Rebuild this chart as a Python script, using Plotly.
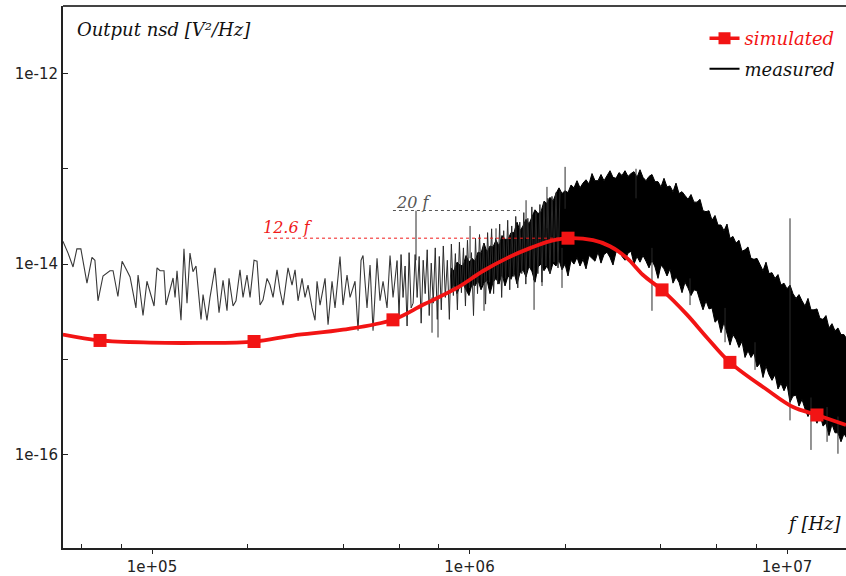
import numpy as np
import plotly.graph_objects as go

# ---------------- simulated output nsd (V^2/Hz) ----------------
sim_f = [5.24e4, 6.86e4, 9.86e4, 1.417e5, 2.096e5, 2.78e5, 3.996e5, 5.743e5, 7.14e5,
         9.13e5, 1.103e6, 1.313e6, 1.551e6, 1.793e6, 2.043e6, 2.449e6, 2.77e6, 3.134e6,
         3.52e6, 4.07e6, 4.84e6, 5.60e6, 6.61e6, 8.65e6, 1.045e7, 1.243e7, 1.534e7]
sim_v = [1.82e-15, 1.58e-15, 1.50e-15, 1.49e-15, 1.54e-15, 1.78e-15, 2.05e-15, 2.61e-15, 3.74e-15,
         5.62e-15, 8.46e-15, 1.155e-14, 1.47e-14, 1.74e-14, 1.87e-14, 1.78e-14, 1.54e-14, 1.155e-14,
         7.68e-15, 5.24e-15, 2.95e-15, 1.69e-15, 9.3e-16, 4.8e-16, 3.16e-16, 2.61e-16, 2.05e-16]
sim_mark_f = [6.86e4, 2.096e5, 5.74e5, 2.043e6, 4.04e6, 6.61e6, 1.243e7]
sim_mark_v = [1.58e-15, 1.54e-15, 2.60e-15, 1.87e-14, 5.36e-15, 9.3e-16, 2.61e-16]

# ---------------- measured output nsd, log10(V^2/Hz) ----------------
meas_sparse_khz = [52.4, 54.4, 56.4, 58.0, 59.7, 62.4, 64.7, 66.1, 67.6, 70.1,
                   73.7, 75.4, 78.1, 80.5, 83.4, 85.3, 89.0, 90.4, 93.7, 96.4,
                   101.5, 103.7, 106.0, 109.1, 110.7, 113.1, 116.5, 118.2, 119.9, 123.4,
                   126.1, 128.9, 131.7, 134.6, 137.6, 142.7, 144.8, 149.0, 152.3, 157.9,
                   162.6, 167.4, 172.3, 174.8, 180.0, 183.9, 189.3, 193.5, 199.2, 203.6,
                   209.6, 214.2, 218.9, 223.7, 230.3, 235.4, 240.6, 247.6, 253.1, 258.7,
                   268.2, 276.1, 282.2, 288.4, 296.9, 303.4, 310.1, 319.2, 326.2, 331.0,
                   338.3, 350.8, 358.5, 369.0, 377.1, 391.0, 399.6, 411.4, 420.5, 436.0,
                   445.6, 455.4, 462.0, 475.6, 486.1, 496.8, 511.4, 522.6, 534.2, 549.9,
                   562.0, 574.3, 591.2]
meas_sparse_log = [-13.76, -13.885, -14.03, -13.84, -13.84, -14.20, -13.93, -13.96, -14.385, -14.125,
                   -14.07, -14.07, -14.34, -13.97, -14.07, -14.135, -14.46, -14.115, -14.54, -14.18,
                   -14.44, -14.04, -14.07, -14.07, -14.43, -14.30, -14.146, -14.35, -14.07, -14.59,
                   -13.84, -14.41, -13.885, -14.08, -14.02, -14.58, -14.32, -14.59, -14.35, -14.04,
                   -14.51, -14.17, -14.49, -14.15, -14.44, -14.385, -14.06, -14.35, -14.115, -14.35,
                   -13.96, -13.97, -14.43, -14.375, -14.15, -14.22, -14.35, -14.06, -14.28, -14.43,
                   -14.04, -14.22, -14.06, -14.385, -14.15, -14.35, -14.22, -14.46, -14.59, -14.18,
                   -14.43, -14.15, -14.635, -14.18, -14.46, -13.92, -14.43, -14.115, -14.35, -14.18,
                   -14.70, -13.96, -13.91, -14.46, -14.01, -14.70, -13.94, -14.385, -14.18, -14.46,
                   -13.91, -14.35, -13.97]

# denser mid-band trace, 0.591 MHz .. 1.93 MHz
meas_mid_start, meas_mid_stop = 5.912e5, 1.928e6
meas_mid_log = [-13.96, -14.54, -13.90, -14.35, -14.02, -14.65, -13.88, -14.46, -14.41, -13.90,
                -14.35, -13.92, -14.62, -13.96, -14.31, -13.85, -14.54, -13.99, -14.41, -13.83,
                -14.58, -13.92, -14.48, -13.81, -14.35, -13.96, -14.58, -13.79, -14.33, -13.89,
                -14.48, -13.77, -14.30, -13.83, -14.44, -13.75, -14.25, -13.88, -14.54, -13.73,
                -14.31, -13.69, -14.23, -13.78, -14.42, -13.67, -14.19, -13.63, -14.31, -13.73,
                -14.21, -13.58, -14.35, -13.65, -14.15, -13.54, -14.27, -13.60, -14.13, -13.50,
                -14.25, -13.56, -14.10, -13.46, -14.21, -13.52, -14.04, -13.40, -14.17, -13.46,
                -14.10, -13.375, -14.19, -13.35, -14.02, -13.31, -14.10, -13.29, -13.98, -13.25,
                -14.04, -13.23]

# dense band envelopes, 0.87 MHz .. 15.5 MHz
meas_band_start, meas_band_stop = 8.745e5, 1.545e7
meas_band_upper_log = [
    -14.04, -14.07, -13.98, -14.01, -14.02, -13.91, -13.98, -13.94, -13.97, -13.875,
    -13.885, -13.78, -13.875, -13.81, -13.82, -13.75, -13.81, -13.70, -13.74, -13.74,
    -13.67, -13.67, -13.56, -13.65, -13.60, -13.53, -13.58, -13.50, -13.43, -13.47,
    -13.45, -13.34, -13.365, -13.30, -13.34, -13.26, -13.20, -13.26, -13.23, -13.25,
    -13.17, -13.20, -13.125, -13.20, -13.15, -13.115, -13.16, -13.05, -13.125, -13.125,
    -13.06, -13.125, -13.07, -13.02, -13.09, -13.10, -13.04, -13.07, -13.02, -13.08,
    -13.05, -13.03, -13.09, -13.01, -13.09, -13.125, -13.08, -13.06, -13.135, -13.135,
    -13.19, -13.10, -13.19, -13.18, -13.24, -13.15, -13.26, -13.24, -13.28, -13.32,
    -13.27, -13.35, -13.35, -13.32, -13.44, -13.45, -13.44, -13.54, -13.49, -13.59,
    -13.59, -13.65, -13.58, -13.73, -13.71, -13.78, -13.75, -13.865, -13.85, -13.82,
    -13.94, -13.95, -13.94, -14.00, -14.07, -13.98, -14.10, -14.09, -14.15, -14.11,
    -14.22, -14.20, -14.26, -14.22, -14.31, -14.36, -14.32, -14.385, -14.44, -14.36,
    -14.48, -14.48, -14.47, -14.57, -14.58, -14.54, -14.67, -14.625, -14.70, -14.67,
    -14.74, -14.74, -14.79]
meas_band_lower_log = [
    -14.27, -14.21, -14.31, -14.23, -14.21, -14.27, -14.33, -14.21, -14.23, -14.17,
    -14.27, -14.20, -14.17, -14.31, -14.19, -14.15, -14.21, -14.10, -14.23, -14.125,
    -14.16, -14.08, -14.21, -14.09, -14.06, -14.135, -14.02, -14.08, -14.19, -14.03,
    -14.00, -14.07, -14.02, -14.10, -13.99, -14.02, -13.96, -14.06, -14.00, -14.125,
    -13.96, -14.00, -13.93, -14.02, -13.95, -14.05, -13.91, -13.94, -13.97, -13.875,
    -13.99, -13.90, -13.875, -13.93, -14.01, -13.875, -13.85, -13.92, -13.96, -13.885,
    -13.865, -14.00, -13.92, -13.98, -13.91, -13.97, -14.04, -13.96, -14.03, -14.15,
    -14.01, -14.05, -14.125, -14.05, -14.20, -14.135, -14.19, -14.30, -14.19, -14.25,
    -14.33, -14.27, -14.28, -14.385, -14.48, -14.385, -14.47, -14.46, -14.61, -14.58,
    -14.72, -14.61, -14.72, -14.85, -14.74, -14.79, -14.875, -14.81, -14.98, -14.91,
    -14.98, -14.93, -15.08, -15.04, -15.19, -15.07, -15.16, -15.22, -15.16, -15.31,
    -15.25, -15.33, -15.26, -15.45, -15.385, -15.375, -15.49, -15.42, -15.52, -15.60,
    -15.52, -15.59, -15.67, -15.58, -15.70, -15.67, -15.80, -15.68, -15.77, -15.77,
    -15.865, -15.78, -15.83]

# isolated spikes of the measured trace
spike_f = [6.784e5, 7.62e5, 7.958e5, 1.004e6, 1.111e6, 1.212e6, 1.507e6, 1.597e6, 1.692e6, 1.754e6,
           1.956e6, 2.000e6, 3.345e6, 3.756e6, 4.949e6, 6.38e6, 7.93e6, 1.022e7, 1.190e7, 1.337e7, 1.447e7]
spike_top_log = [-13.44, -14.35, -14.35, -13.60, -14.20, -13.625, -13.33, -14.04, -13.94, -13.19,
                 -13.83, -12.98, -13.00, -13.83, -14.15, -14.46, -14.82, -13.52, -15.40, -15.50, -15.60]
spike_bot_log = [-13.96, -14.72, -14.77, -13.94, -14.49, -13.96, -13.73, -14.48, -14.23, -13.625,
                 -14.25, -13.42, -13.31, -14.49, -14.43, -14.82, -15.11, -15.64, -15.95, -15.865, -15.99]

# reference levels (20 f and 12.6 f)
ref_labels = ["20 f", "12.6 f"]
ref_levels = [3.65e-14, 1.87e-14]
ref_x0 = [5.74e5, 2.32e5]
ref_x1 = [1.44e6, 2.04e6]
ref_label_f = [6.64e5, 2.68e5]
ref_label_v = [4.42e-14, 2.43e-14]
ref_colors = ["#555555", "#f01a1a"]

# axis ticks
x_tickvals = [1e5, 1e6, 1e7]
x_ticktext = ["1e+05", "1e+06", "1e+07"]
x_minorvals = [6e4, 8e4, 2e5, 4e5, 6e5, 8e5, 2e6, 4e6, 6e6, 8e6]
y_tickvals = [1e-16, 1e-15, 1e-14, 1e-13, 1e-12]
y_ticktext = ["1e-16", "", "1e-14", "", "1e-12"]

RED = "#f21414"
MEAS = "#2a2a2a"
SERIF = "DejaVu Serif"
SANS = "DejaVu Sans"

fig = go.Figure()

# measured: sparse low-frequency part
fig.add_trace(go.Scatter(x=np.array(meas_sparse_khz) * 1e3, y=10.0 ** np.array(meas_sparse_log),
                         mode="lines", line=dict(color="#383838", width=1.1), showlegend=False, hoverinfo="skip"))
# measured: dense band
band_f = np.geomspace(meas_band_start, meas_band_stop, len(meas_band_upper_log))
fig.add_trace(go.Scatter(x=band_f, y=10.0 ** np.array(meas_band_upper_log),
                         mode="lines", line=dict(color="black", width=1), showlegend=False, hoverinfo="skip"))
fig.add_trace(go.Scatter(x=band_f, y=10.0 ** np.array(meas_band_lower_log),
                         mode="lines", line=dict(color="black", width=1), fill="tonexty",
                         fillcolor="black", showlegend=False, hoverinfo="skip"))
# measured: mid part
mid_f = np.geomspace(meas_mid_start, meas_mid_stop, len(meas_mid_log))
fig.add_trace(go.Scatter(x=mid_f, y=10.0 ** np.array(meas_mid_log),
                         mode="lines", line=dict(color=MEAS, width=1), showlegend=False, hoverinfo="skip"))
# measured: spikes
sx, sy = [], []
for f, t, b in zip(spike_f, spike_top_log, spike_bot_log):
    sx += [f, f, None]
    sy += [10.0 ** t, 10.0 ** b, None]
fig.add_trace(go.Scatter(x=sx, y=sy, mode="lines", line=dict(color=MEAS, width=1),
                         showlegend=False, hoverinfo="skip", connectgaps=False))

# reference levels
for lab, lv, x0, x1, lf, lvv, col in zip(ref_labels, ref_levels, ref_x0, ref_x1, ref_label_f, ref_label_v, ref_colors):
    fig.add_trace(go.Scatter(x=[x0, x1], y=[lv, lv], mode="lines",
                             line=dict(color=col, width=1, dash="dot"), showlegend=False, hoverinfo="skip"))
    fig.add_annotation(x=np.log10(lf), y=np.log10(lvv), xref="x", yref="y", text=lab, showarrow=False,
                       font=dict(family=SERIF, size=16, color=col, style="italic"))

# simulated
fig.add_trace(go.Scatter(x=sim_f, y=sim_v, mode="lines", line=dict(color=RED, width=3.8, shape="spline"),
                         showlegend=False, hoverinfo="skip"))
fig.add_trace(go.Scatter(x=sim_mark_f, y=sim_mark_v, mode="markers",
                         marker=dict(symbol="square", size=13, color=RED), showlegend=False, hoverinfo="skip"))

# legend entries
fig.add_trace(go.Scatter(x=[None], y=[None], mode="lines+markers",
                         name='<span style="color:#f21414">simulated</span>',
                         line=dict(color=RED, width=3.5), marker=dict(symbol="square", size=12, color=RED),
                         legendgroup="a"))
fig.add_trace(go.Scatter(x=[None], y=[None], mode="lines", name="measured",
                         line=dict(color="black", width=2), legendgroup="b"))

fig.add_annotation(x=0.015, y=0.956, xref="paper", yref="paper", xanchor="left", yanchor="middle",
                   text="Output nsd [V²/Hz]", showarrow=False,
                   font=dict(family=SERIF, size=18, color="#111", style="italic"))
fig.add_annotation(x=0.997, y=0.046, xref="paper", yref="paper", xanchor="right", yanchor="middle",
                   text="f [Hz]", showarrow=False,
                   font=dict(family=SERIF, size=18, color="#111", style="italic"))

fig.add_shape(type="line", xref="paper", yref="paper", x0=0, x1=1, y0=1, y1=1,
              line=dict(color="#444444", width=2))

fig.update_layout(
    width=846, height=576,
    margin=dict(l=63, r=0, t=6, b=24),
    paper_bgcolor="white", plot_bgcolor="white",
    legend=dict(x=0.993, y=0.974, xanchor="right", yanchor="top", bgcolor="rgba(0,0,0,0)",
                font=dict(family=SERIF, size=18, color="#111", style="italic"),
                traceorder="grouped", tracegroupgap=4),
    xaxis=dict(type="log", range=[4.7197, 7.1858], showgrid=False, zeroline=False,
               showline=True, linecolor="#222", linewidth=2,
               tickvals=x_tickvals, ticktext=x_ticktext, ticks="outside", ticklen=4,
               tickcolor="#222", tickfont=dict(family=SANS, size=15, color="#222"),
               minor=dict(tickvals=x_minorvals, ticks="inside", ticklen=4, tickcolor="#222")),
    yaxis=dict(type="log", range=[-16.979, -11.292], showgrid=False, zeroline=False,
               showline=True, linecolor="#222", linewidth=2,
               tickvals=y_tickvals, ticktext=y_ticktext, ticks="inside", ticklen=5,
               tickcolor="#222", tickfont=dict(family=SANS, size=15, color="#222")),
)

fig.write_html("out.html", config={"displayModeBar": False},
               post_script="document.body.style.margin='0px';")
